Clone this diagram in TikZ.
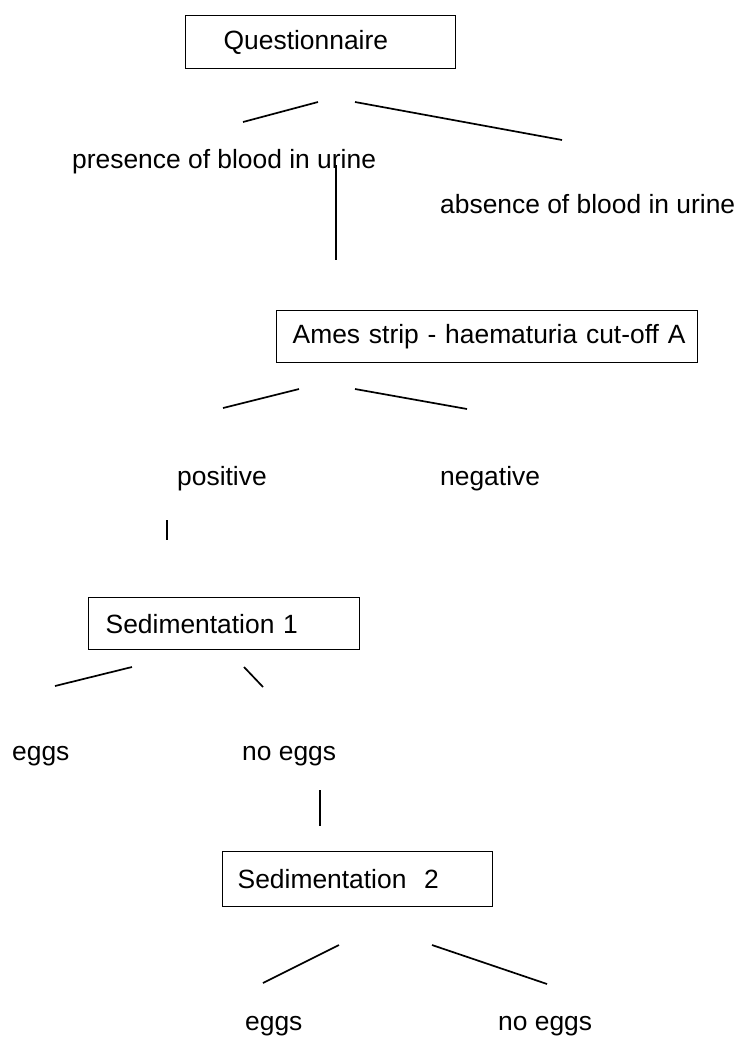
\documentclass[tikz,border=0pt]{standalone}
\usepackage{fontspec}
\setmainfont{Liberation Sans}
\begin{document}
\begin{tikzpicture}[x=1pt,y=-1pt,
  every node/.style={font=\fontsize{26.4}{31}\selectfont},
  lbl/.style={inner sep=0pt, anchor=base west},
  box/.style={draw, line width=1.4pt, anchor=north west, align=left, inner ysep=0pt},
  link/.style={line width=1.7pt}]
\useasboundingbox[fill=white] (0,0) rectangle (736,1039);

% questionnaire level
\node[box, minimum height=53pt, inner xsep=38pt, text width=194pt] (q) at (185,15) {Questionnaire};
\coordinate (q1a) at (243,122); \coordinate (q1b) at (318,102);
\coordinate (q2a) at (355,102); \coordinate (q2b) at (562,140);
\draw[link] (q1a) -- (q1b);
\draw[link] (q2a) -- (q2b);
\node[lbl] (pres) at (72,168) {presence of blood in urine};
\node[lbl] (abs) at (440,213) {absence of blood in urine};
\coordinate (v1a) at (336,165); \coordinate (v1b) at (336,260);
\draw[link] (v1a) -- (v1b);

% Ames strip level
\node[box, minimum height=52pt, inner xsep=16pt, text width=389pt] (ames) at (276,310) {\mbox{Ames strip - haematuria cut-off A}};
\coordinate (a1a) at (223,408); \coordinate (a1b) at (299,389);
\coordinate (a2a) at (355,389); \coordinate (a2b) at (467,409);
\draw[link] (a1a) -- (a1b);
\draw[link] (a2a) -- (a2b);
\node[lbl] (pos) at (177,485) {positive};
\node[lbl] (neg) at (440,485) {negative};
\coordinate (v2a) at (167,520); \coordinate (v2b) at (167,540);
\draw[link] (v2a) -- (v2b);

% first sedimentation
\node[box, minimum height=52pt, inner xsep=17pt, text width=237pt] (sed1) at (88,597) {Sedimentation 1};
\coordinate (s1a) at (55,686); \coordinate (s1b) at (132,667);
\coordinate (s2a) at (244,667); \coordinate (s2b) at (263,687);
\draw[link] (s1a) -- (s1b);
\draw[link] (s2a) -- (s2b);
\node[lbl] (eggs1) at (12,760) {eggs};
\node[lbl] (noeggs1) at (242,760) {no eggs};
\coordinate (v3a) at (320,790); \coordinate (v3b) at (320,826);
\draw[link] (v3a) -- (v3b);

% second sedimentation
\node[box, minimum height=55pt, inner xsep=15pt, text width=240pt] (sed2) at (222,851) {Sedimentation\ \ 2};
\coordinate (t1a) at (263,983); \coordinate (t1b) at (339,945);
\coordinate (t2a) at (432,945); \coordinate (t2b) at (547,984);
\draw[link] (t1a) -- (t1b);
\draw[link] (t2a) -- (t2b);
\node[lbl] (eggs2) at (245,1030) {eggs};
\node[lbl] (noeggs2) at (498,1030) {no eggs};
\end{tikzpicture}
\end{document}
